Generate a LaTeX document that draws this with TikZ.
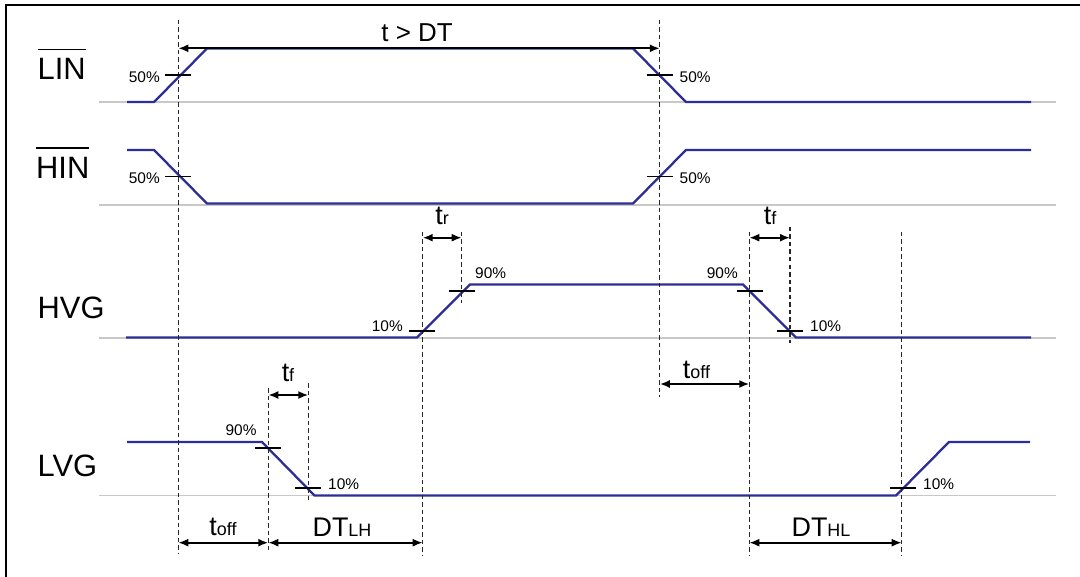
\documentclass[tikz,border=0pt]{standalone}
\usepackage{fontspec}
\setmainfont{Liberation Sans}
\usetikzlibrary{arrows.meta}
\definecolor{sigblue}{RGB}{45,45,150}
\definecolor{levelgray}{RGB}{200,200,200}
\newcommand{\barred}[1]{\setbox0\hbox{#1}\rlap{\rule[0.96em]{\wd0}{1.8bp}}\box0}
\newcommand{\subtxt}[1]{{\fontsize{18}{18}\selectfont #1}}

\begin{document}
\begin{tikzpicture}[x=1bp, y=-1bp, >={Latex[length=10bp,width=8bp]}]
	\tikzstyle{signal}=[draw=sigblue, line width=2.3bp]
	\tikzstyle{level}=[draw=levelgray, line width=1.4bp]
	\tikzstyle{marker}=[draw=black!85, line width=1.1bp, dash pattern=on 4.5bp off 3bp]
	\tikzstyle{tick}=[draw=black, line width=1.9bp]
	\tikzstyle{dim}=[<->, draw=black, line width=1.9bp]
	\tikzstyle{pct}=[inner sep=0pt, font=\fontsize{15.5}{16}\selectfont]
	\tikzstyle{rowname}=[inner sep=0pt, anchor=base west, font=\fontsize{31}{31}\selectfont]
	\tikzstyle{timelabel}=[inner sep=0pt, anchor=base, font=\fontsize{27}{27}\selectfont]
	
	\useasboundingbox (0,0) rectangle (1080,577);
	
	% Draw the frame
	\draw[line width=1.8bp] (6,577) -- (6,5) -- (1080,5);
	
	% Draw the levels
	\foreach \name / \y in {LIN/102, HIN/205, HVG/338, LVG/495.5}
	\path[level] (99,\y) -- (1056,\y);
	
	% Draw the signals
	\draw[signal] (127,102) -- (154,102) -- (207,48.5) -- (633,48.5) -- (686,102) -- (1031,102);
	\draw[signal] (127,150) -- (154,150) -- (207,203.5) -- (633,203.5) -- (686,150) -- (1031,150);
	\draw[signal] (126,337.5) -- (417,337.5) -- (470,284.5) -- (743,284.5) -- (796,337.5) -- (1031,337.5);
	\draw[signal] (127,442) -- (262,442) -- (314.5,495.5) -- (896,495.5) -- (949,442) -- (1030,442);
	
	% Draw the dashed markers
	\foreach \name / \x / \ya / \yb in {a/178.3/20/553, b/659.8/20/397, c/422.7/232/555,
		d/461.7/232/303, e/749.3/232/555, f/790/227/343, g/901.7/232/555,
		h/268.3/388/553, i/308.3/383/500}
	{
	\coordinate (M-\name) at (\x,\ya);
	\path[marker] (M-\name) -- (\x,\yb);
	}
	
	% Draw the threshold ticks
	\foreach \x / \y in {178.2/75, 659.6/75, 178.2/176.5, 659.6/176.5, 421.5/330.7,
		461.5/290.7, 749.7/290.7, 789.7/330.7, 268/448.3, 308/488.3, 903/488.3}
	\draw[tick] ({\x-13},\y) -- ({\x+13},\y);
	
	% Annotate the thresholds
	\foreach \name / \anc / \x / \y / \txt in {p1/east/160/77/50\%, p2/west/679.5/77/50\%,
		p3/east/160/178/50\%, p4/west/679.5/178/50\%, p5/east/403/326/10\%,
		p6/west/475/273.5/90\%, p7/east/738/273.5/90\%, p8/west/810/326/10\%,
		p9/east/256.7/430.5/90\%, p10/west/328/484/10\%, p11/west/923/484/10\%}
	\node[pct, anchor=\anc] (\name) at (\x,\y) {\txt};
	
	% Draw the time intervals
	\foreach \name / \s / \e / \y in {dt/a/b/48.3, tr/c/d/237.7, tfh/e/f/237.7,
		toffh/b/e/384, tfl/h/i/395, toffl/a/h/542.7, dtlh/h/c/542.7, dthl/e/g/542.7}
	\draw[dim] (M-\s |- 0,\y) -- (M-\e |- 0,\y);
	
	% Annotate the intervals
	\node[timelabel, font=\fontsize{26}{26}\selectfont] (L-dt) at (417,42) {t > DT};
	\node[timelabel] (L-tr) at (442,225) {t\subtxt{r}};
	\node[timelabel] (L-tfh) at (770,225) {t\subtxt{f}};
	\node[timelabel] (L-toffh) at (696.5,378) {t\subtxt{off}};
	\node[timelabel] (L-tfl) at (288,381.7) {t\subtxt{f}};
	\node[timelabel] (L-toffl) at (223,535) {t\subtxt{off}};
	\node[timelabel] (L-dtlh) at (342,536.7) {DT\subtxt{LH}};
	\node[timelabel] (L-dthl) at (821,536.7) {DT\subtxt{HL}};
	
	% Annotate the signals
	\node[rowname] (lin) at (37.5,80) {\barred{LIN}};
	\node[rowname] (hin) at (36,178.3) {\barred{HIN}};
	\node[rowname] (hvg) at (37.5,318.3) {HVG};
	\node[rowname] (lvg) at (37.5,476.7) {LVG};
	
\end{tikzpicture}
\end{document}
